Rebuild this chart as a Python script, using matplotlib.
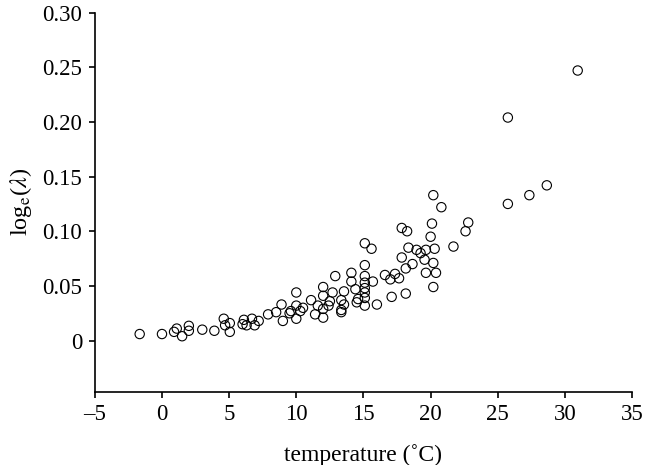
import matplotlib
matplotlib.use("Agg")
import matplotlib.pyplot as plt

# temperature (deg C) vs log_e(lambda)
temperature = [
    -1.66, 0.0, 0.9, 1.1, 1.5, 2.0, 2.0, 3.0, 3.9, 4.6, 4.7, 5.05, 5.05,
    6.0, 6.1, 6.3, 6.7, 6.9, 7.2, 7.9, 8.5, 8.9, 9.0, 9.5, 9.6,
    10.0, 10.0, 10.0, 10.3, 10.5, 11.1, 11.4, 11.6,
    12.0, 12.0, 12.0, 12.0, 12.4, 12.5, 12.7, 12.9,
    13.35, 13.35, 13.35, 13.55, 13.55, 14.1, 14.1, 14.4, 14.5, 14.6,
    15.1, 15.1, 15.1, 15.1, 15.1, 15.1, 15.1, 15.1,
    15.6, 15.7, 16.0, 16.6, 17.0, 17.1, 17.35, 17.65, 17.85, 17.85,
    18.15, 18.15, 18.25, 18.35, 18.65, 18.95, 19.25, 19.55, 19.65, 19.65,
    20.0, 20.1, 20.2, 20.2, 20.2, 20.3, 20.4, 20.8,
    21.7, 22.6, 22.8, 25.75, 25.75, 27.35, 28.65, 30.95,
]
log_lambda = [
    0.006, 0.006, 0.008, 0.011, 0.004, 0.0135, 0.009, 0.010, 0.009, 0.020, 0.014, 0.016, 0.008,
    0.015, 0.019, 0.014, 0.020, 0.014, 0.018, 0.024, 0.026, 0.033, 0.018, 0.025, 0.027,
    0.044, 0.032, 0.020, 0.027, 0.030, 0.037, 0.024, 0.032,
    0.049, 0.041, 0.029, 0.021, 0.032, 0.036, 0.044, 0.059,
    0.037, 0.028, 0.026, 0.045, 0.033, 0.062, 0.054, 0.047, 0.035, 0.038,
    0.089, 0.069, 0.059, 0.053, 0.048, 0.044, 0.039, 0.032,
    0.084, 0.054, 0.033, 0.060, 0.056, 0.040, 0.061, 0.057, 0.103, 0.076,
    0.066, 0.043, 0.100, 0.085, 0.070, 0.083, 0.080, 0.074, 0.083, 0.062,
    0.095, 0.107, 0.133, 0.071, 0.049, 0.084, 0.062, 0.122,
    0.086, 0.100, 0.108, 0.204, 0.125, 0.133, 0.142, 0.247,
]

x_ticks = [-5, 0, 5, 10, 15, 20, 25, 30, 35]
x_labels = ["\u20135", "0", "5", "10", "15", "20", "25", "30", "35"]
y_ticks = [0, 0.05, 0.10, 0.15, 0.20, 0.25, 0.30]
y_labels = ["0", "0.05", "0.10", "0.15", "0.20", "0.25", "0.30"]

plt.rcParams["font.family"] = ["Liberation Serif", "DejaVu Serif"]
plt.rcParams["mathtext.fontset"] = "stix"

fig = plt.figure(figsize=(6.45, 4.65), dpi=100)
ax = fig.add_axes([0.147, 0.157, 0.833, 0.816])

ax.scatter(temperature, log_lambda, s=45, facecolors="none",
           edgecolors="black", linewidths=0.8, clip_on=False)

ax.set_xlim(-5, 35)
ax.set_ylim(-0.047, 0.30)
ax.set_xticks(x_ticks)
ax.set_xticklabels(x_labels)
ax.set_yticks(y_ticks)
ax.set_yticklabels(y_labels)

for side in ["top", "right"]:
    ax.spines[side].set_visible(False)
for side in ["left", "bottom"]:
    ax.spines[side].set_linewidth(1.2)

ax.tick_params(direction="out", length=4, width=1.2, labelsize=16.5, pad=5)

ax.set_xlabel("temperature (\u02daC)", fontsize=17, labelpad=13)
ax.set_ylabel(r"log$_{\mathrm{e}}$($\lambda$)", fontsize=17.5, labelpad=6)

fig.savefig("out.png", dpi=100)
